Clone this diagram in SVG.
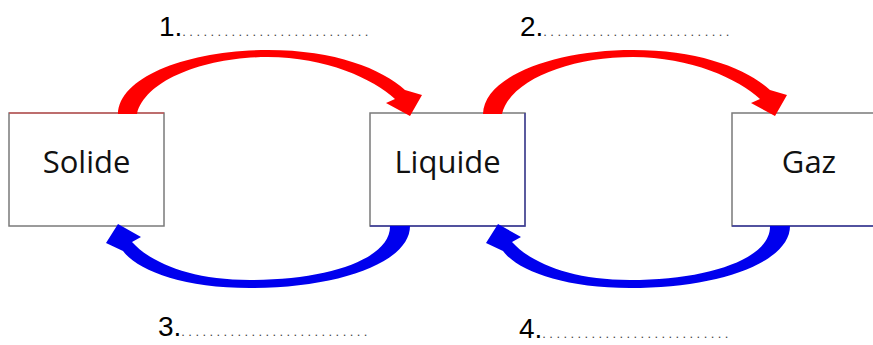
<svg xmlns="http://www.w3.org/2000/svg" width="873" height="345" viewBox="0 0 873 345">
<style>
.box{fill:#fff;stroke:#7a7a7a;stroke-width:1.5}
.lbl{font-family:"Open Sans","Liberation Sans",sans-serif;font-size:31px;fill:#111;text-anchor:middle}
.num{font-family:"Liberation Sans",Arial,sans-serif;font-size:28px;fill:#000}
.dots{font-size:13px;letter-spacing:3.4px;fill:#444}
.red{fill:#ff0000}
.blue{fill:#0000ee}
</style>
<defs>
<path id="arcUp" d="M118,114 C119,76 190,50 268,50 C335,50 382,69 405,90 L422,95 L410,116 L386,103 L395,99 C374,79 325,57 268,57 C205,57 145,80 137,114 Z"/>
<path id="arcDown" d="M410,226 C410,262 340,288 250,288 C182,288 137,270 123,251 L106,243 L118,224 L141,237 L132,242 C150,262 190,280 250,280 C330,280 391,258 390,226 Z"/>
</defs>
<rect width="873" height="345" fill="#fff"/>
<g id="solide">
<rect class="box" x="9" y="113" width="155" height="113"/>
<line x1="9" y1="113" x2="164" y2="113" stroke="#e04040" stroke-width="1.2"/>
<text class="lbl" x="86.5" y="173">Solide</text>
</g>
<g id="liquide">
<rect class="box" x="370" y="113" width="155" height="113"/>
<path d="M525,113 V226 H370" fill="none" stroke="#3a3aa0" stroke-width="1.3"/>
<text class="lbl" x="447.5" y="173">Liquide</text>
</g>
<g id="gaz">
<rect class="box" x="732" y="113" width="155" height="113"/>
<line x1="732" y1="226" x2="873" y2="226" stroke="#3a3aa0" stroke-width="1.3"/>
<text class="lbl" x="809" y="173">Gaz</text>
</g>
<g id="connectors">
<use href="#arcUp" class="red"/>
<use href="#arcUp" class="red" transform="translate(365,0)"/>
<use href="#arcDown" class="blue"/>
<use href="#arcDown" class="blue" transform="translate(380,0)"/>
</g>
<g id="labels">
<text class="num" x="159" y="36">1.<tspan class="dots">...........................</tspan></text>
<text class="num" x="520" y="36">2.<tspan class="dots">...........................</tspan></text>
<text class="num" x="158" y="336">3.<tspan class="dots">...........................</tspan></text>
<text class="num" x="519" y="338">4.<tspan class="dots">...........................</tspan></text>
</g>
</svg>
